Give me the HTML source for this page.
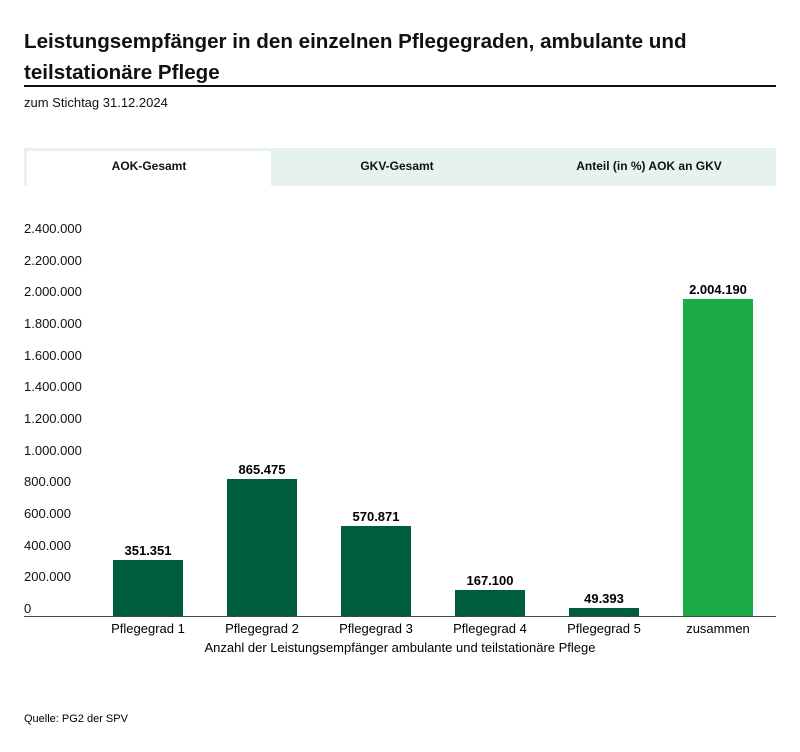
<!DOCTYPE html>
<html><head><meta charset="utf-8"><style>
body{margin:0;width:800px;height:752px;background:#fff;font-family:"Liberation Sans",sans-serif;color:#111;position:relative;overflow:hidden}
.a{position:absolute}
</style></head><body>
<div class="a" style="left:24px;top:26px;font-size:20.6px;font-weight:bold;line-height:31px;width:700px">Leistungsempfänger in den einzelnen Pflegegraden, ambulante und teilstationäre Pflege</div>
<div class="a" style="left:24px;top:85px;width:752px;height:2px;background:#111"></div>
<div class="a" style="left:24px;top:95px;font-size:13px">zum Stichtag 31.12.2024</div>
<div class="a" style="left:24px;top:148px;width:752px;height:38px;background:#e6f2ef"></div>
<div class="a" style="left:27px;top:151px;width:244px;height:35px;background:#fff;border-radius:3px 3px 0 0"></div>
<div class="a" style="left:27px;top:159px;width:244px;text-align:center;font-size:12px;font-weight:bold">AOK-Gesamt</div>
<div class="a" style="left:275px;top:159px;width:244px;text-align:center;font-size:12px;font-weight:bold">GKV-Gesamt</div>
<div class="a" style="left:527px;top:159px;width:244px;text-align:center;font-size:12px;font-weight:bold">Anteil (in %) AOK an GKV</div>
<svg class="a" style="left:0;top:0" width="800" height="752" font-family="Liberation Sans, sans-serif">
<g font-size="13" fill="#111">
<text x="24" y="233">2.400.000</text><text x="24" y="265">2.200.000</text><text x="24" y="296">2.000.000</text><text x="24" y="328">1.800.000</text><text x="24" y="360">1.600.000</text><text x="24" y="391">1.400.000</text><text x="24" y="423">1.200.000</text><text x="24" y="455">1.000.000</text><text x="24" y="486">800.000</text><text x="24" y="518">600.000</text><text x="24" y="550">400.000</text><text x="24" y="581">200.000</text><text x="24" y="613">0</text>
</g>
<g fill="#005e3c">
<rect x="113" y="560" width="70" height="56"/><rect x="227" y="479" width="70" height="137"/><rect x="341" y="526" width="70" height="90"/><rect x="455" y="590" width="70" height="26"/><rect x="569" y="608" width="70" height="8"/>
</g>
<rect x="683" y="299" width="70" height="317" fill="#1aab45"/>
<line x1="24" y1="616.5" x2="776" y2="616.5" stroke="#444" stroke-width="1"/>
<g font-size="13" font-weight="bold" text-anchor="middle">
<text x="148" y="555">351.351</text><text x="262" y="474">865.475</text><text x="376" y="521">570.871</text><text x="490" y="585">167.100</text><text x="604" y="603">49.393</text><text x="718" y="294">2.004.190</text>
</g>
<g font-size="13" text-anchor="middle">
<text x="148" y="633">Pflegegrad 1</text><text x="262" y="633">Pflegegrad 2</text><text x="376" y="633">Pflegegrad 3</text><text x="490" y="633">Pflegegrad 4</text><text x="604" y="633">Pflegegrad 5</text><text x="718" y="633">zusammen</text>
<text x="400" y="652">Anzahl der Leistungsempfänger ambulante und teilstationäre Pflege</text>
</g>
<text x="24" y="722" font-size="11">Quelle: PG2 der SPV</text>
</svg>
</body></html>
